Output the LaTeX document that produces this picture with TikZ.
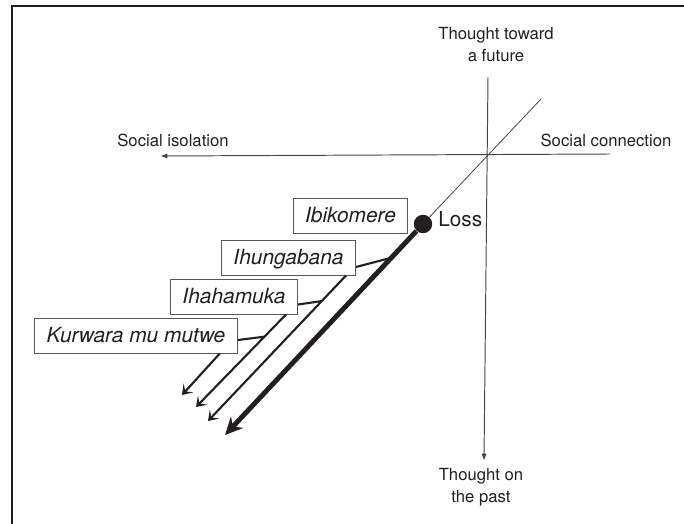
\documentclass[tikz,border=0pt]{standalone}
\usepackage{fontspec}
\setmainfont{TeX Gyre Heros}
\usepackage{xcolor}
\usepackage{tikz}
\usetikzlibrary{arrows.meta,calc}
\definecolor{ink}{RGB}{35,31,32}
\definecolor{axisgray}{RGB}{70,68,68}

\begin{document}
\begin{tikzpicture}[
				x = 0.02cm, y = -0.02cm,
				every node/.style = {text = ink},
				frameline/.style = {draw = ink, line width = 1.2pt},
				axisline/.style = {draw = axisgray, line width = .55pt},
				axislabel/.style = {font = \fontsize{9.5}{12.5}\selectfont, align = center, inner sep = 0pt},
				wordbox/.style = {draw = gray!70!black, line width = .55pt, font = \fontsize{11.9}{14}\selectfont\itshape,
					inner xsep = .24cm, inner ysep = 0pt, minimum height = .7cm, text height = 8.4pt, text depth = 0pt},
				thinarrow/.style = {draw = ink, line width = 1.2pt, -{Stealth[length = 5.5pt, width = 7.5pt, inset = 2.8pt]}},
				thickarrow/.style = {draw = ink, line width = 2.8pt, -{Stealth[length = 10pt, width = 9.5pt, inset = 3.5pt]}},
				linkline/.style = {draw = ink, line width = 1.2pt}
			]

			\useasboundingbox (0,0) rectangle (684,524);
			\draw[frameline] (12,524) |- (684,6);

			\coordinate (connend) at (610,154);
			\coordinate (isoend) at (161,156);
			\coordinate (futend) at (488,77);
			\coordinate (pastend) at (484,460);
			\coordinate (diagend) at (541,99);

			\draw[axisline, -{Triangle[length = 3.6pt, width = 2.6pt]}] (connend) -- (isoend);
			\draw[axisline, -{Triangle[length = 3.6pt, width = 2.6pt]}] (futend) -- (pastend);

			\node[axislabel, anchor = south] (future) at (496,62.5) {Thought toward\\a future};
			\node[axislabel, anchor = north] (past) at (481,468) {Thought on\\the past};
			\node[axislabel] (isolation) at (173,140.5) {Social isolation};
			\node[axislabel] (connection) at (606,140.5) {Social connection};

			\node[circle, fill = ink, inner sep = 0pt, minimum size = .37cm] (loss) at (423,224) {};
			\draw[axisline, line width = .45pt] (diagend) -- (loss);
			\node[anchor = west, inner sep = 0pt, font = \fontsize{11.8}{14}\selectfont] (losslabel) at (438,219.5) {Loss};

			\node[wordbox] (ibikomere) at (350.5,215.5) {Ibikomere};
			\node[wordbox] (ihungabana) at (288.5,257.5) {Ihungabana};
			\node[wordbox] (ihahamuka) at (234,296.5) {Ihahamuka};
			\node[wordbox] (kurwara) at (136,335.5) {Kurwara mu mutwe};

			\coordinate (ihungabanafoot) at ([xshift = -.2cm]ihungabana.south east);
			\coordinate (ihahamukafoot) at ([xshift = -.24cm]ihahamuka.south east);
			\coordinate (kurwarafoot) at ([xshift = -.36cm]kurwara.south east);

			\coordinate (losstip) at (225,435);
			\coordinate (ihungabanatip) at (208,421);
			\coordinate (ihahamukatip) at (196,407);
			\coordinate (kurwaratip) at (182,395);

			\draw[thickarrow] (loss) -- (losstip);
			\draw[thinarrow] (ihungabanafoot) -- (ihungabanatip);
			\draw[thinarrow] (ihahamukafoot) -- (ihahamukatip);
			\draw[thinarrow] (kurwarafoot) -- (kurwaratip);

			\draw[linkline] ([yshift = -.19cm]ihungabana.east) -- ($(loss)!.16!(losstip)$);
			\draw[linkline] ([yshift = -.16cm]ihahamuka.east) -- ($(ihungabanafoot)!.176!(ihungabanatip)$);
			\draw[linkline] ([yshift = -.09cm]kurwara.east) -- ($(ihahamukafoot)!.24!(ihahamukatip)$);

			\end{tikzpicture}
\end{document}
